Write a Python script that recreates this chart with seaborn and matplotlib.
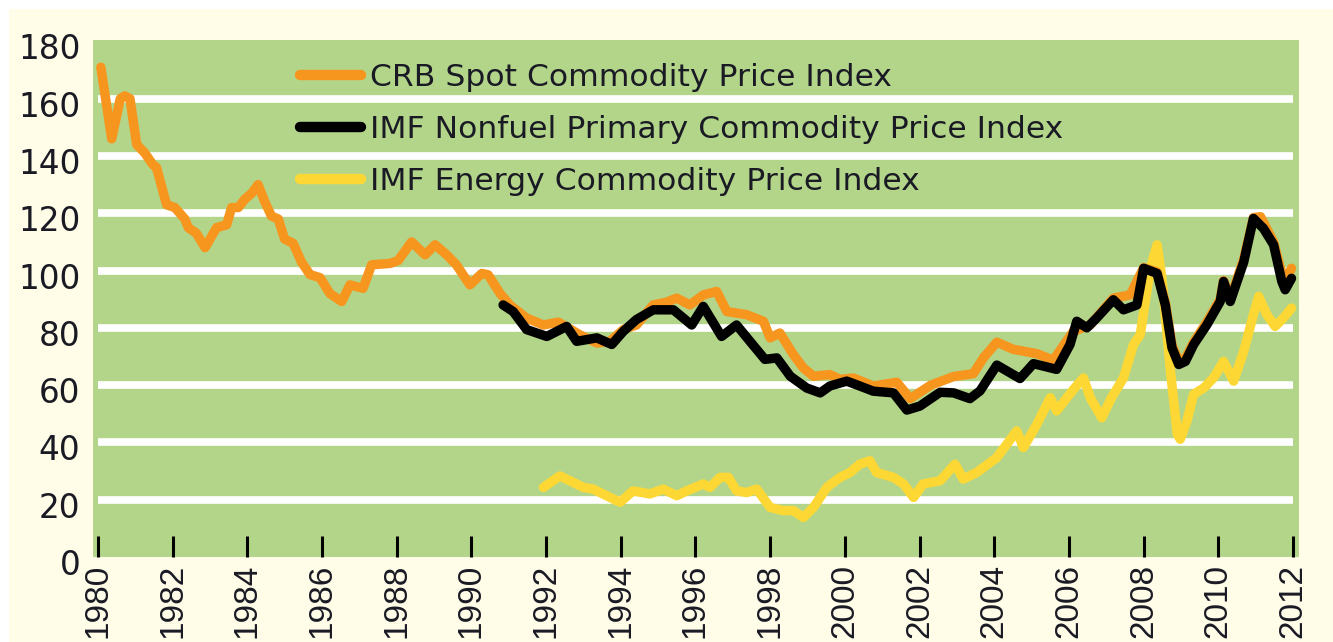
import matplotlib
matplotlib.use("Agg")
import matplotlib.pyplot as plt
import matplotlib.transforms as mtransforms
import seaborn as sns
import pandas as pd
from matplotlib.patches import Rectangle

# ---------------- data ----------------
crb_years = [1980.08, 1980.37, 1980.6, 1980.72, 1980.86, 1981.04, 1981.26, 1981.47, 1981.57, 1981.84,
             1982.06, 1982.33, 1982.42, 1982.64, 1982.87, 1983.18, 1983.45, 1983.58, 1983.76, 1983.94,
             1984.12, 1984.29, 1984.47, 1984.65, 1984.83, 1985.0, 1985.23, 1985.45, 1985.68, 1985.95,
             1986.21, 1986.53, 1986.75, 1987.1, 1987.33, 1987.82, 1988.04, 1988.4, 1988.76, 1989.03,
             1989.34, 1989.6, 1989.96, 1990.28, 1990.45, 1990.77, 1991.03, 1991.48, 1991.93, 1992.33,
             1992.9, 1993.36, 1993.71, 1994.07, 1994.42, 1994.87, 1995.23, 1995.5, 1995.85, 1996.21,
             1996.57, 1996.84, 1997.37, 1997.82, 1998.0, 1998.26, 1998.62, 1998.89, 1999.16, 1999.6,
             1999.87, 2000.23, 2000.76, 2001.39, 2001.75, 2002.3, 2002.91, 2003.44, 2003.71, 2004.07,
             2004.51, 2005.14, 2005.58, 2006.12, 2006.57, 2007.19, 2007.64, 2008.0, 2008.36, 2008.58,
             2008.76, 2008.94, 2009.12, 2009.34, 2009.69, 2010.05, 2010.14, 2010.32, 2010.68, 2010.94,
             2011.13, 2011.48, 2011.7, 2011.79, 2011.96]
crb_values = [171, 146, 160, 161, 160, 144, 141, 137, 136, 123,
              122, 118, 115, 113, 108, 115, 116, 122, 122, 125,
              127, 130, 124, 119, 118, 111, 109.5, 103, 98.6, 97.5,
              92, 89.2, 95, 93.8, 102, 102.5, 103.5, 110, 105.5, 109,
              105.5, 102, 95, 99, 98.5, 92, 88, 83.4, 81, 82,
              77.6, 74.7, 75.3, 79.4, 81, 88, 89, 90.4, 88, 91.5,
              92.7, 85.7, 84.6, 82.3, 76.5, 78.2, 70.7, 66, 63.1, 63.7,
              62, 62.5, 59.7, 61, 55.3, 60, 63, 64, 69.5, 75,
              72.5, 71, 68.7, 78.8, 81, 90.4, 91.5, 101, 99.5, 89,
              74, 68.5, 69.5, 75, 82, 90, 96.5, 90, 104, 118.5,
              118.8, 110, 99, 96.5, 100.8]

nonfuel_years = [1990.85, 1991.12, 1991.48, 1992.02, 1992.55, 1992.82, 1993.36, 1993.76, 1994.07, 1994.42,
                 1994.87, 1995.41, 1995.9, 1996.21, 1996.7, 1997.1, 1997.46, 1997.86, 1998.18, 1998.54,
                 1998.98, 1999.34, 1999.6, 2000.05, 2000.4, 2000.76, 2001.3, 2001.66, 2002.01, 2002.55,
                 2002.91, 2003.35, 2003.62, 2004.07, 2004.69, 2005.05, 2005.67, 2006.03, 2006.21, 2006.48,
                 2006.74, 2007.19, 2007.46, 2007.82, 2008.0, 2008.36, 2008.58, 2008.76, 2008.94, 2009.12,
                 2009.34, 2009.69, 2010.05, 2010.14, 2010.32, 2010.68, 2010.94, 2011.21, 2011.48, 2011.7,
                 2011.79, 2011.96]
nonfuel_values = [88, 85.7, 79.4, 77, 80.5, 75.3, 76.5, 74.2, 78.8, 82.9,
                  86.3, 86.3, 81, 87.5, 77, 81, 75.3, 69, 69.5, 63.1,
                  59, 57.3, 59.7, 61.4, 59.7, 57.9, 57.3, 51.3, 52.7, 57.5,
                  57.3, 55.3, 58, 67, 62.3, 67.5, 65.5, 74.2, 82.3, 80,
                  83.4, 89.8, 86.3, 88, 100.8, 99, 88, 73, 67.2, 68.3,
                  74.2, 81, 89.2, 96.2, 89.2, 103, 118.2, 114.7, 109, 96.2,
                  93.3, 97.3]

energy_years = [1991.93, 1992.37, 1992.64, 1993.0, 1993.26, 1993.62, 1993.98, 1994.33, 1994.78, 1995.14,
                1995.5, 1995.77, 1996.21, 1996.39, 1996.66, 1996.88, 1997.1, 1997.37, 1997.64, 1998.0,
                1998.35, 1998.62, 1998.89, 1999.16, 1999.52, 1999.87, 2000.14, 2000.4, 2000.67, 2000.85,
                2001.3, 2001.57, 2001.84, 2002.1, 2002.55, 2002.95, 2003.17, 2003.53, 2004.07, 2004.6,
                2004.78, 2005.14, 2005.5, 2005.67, 2006.12, 2006.39, 2006.57, 2006.88, 2007.14, 2007.46,
                2007.73, 2007.91, 2008.18, 2008.36, 2008.49, 2008.71, 2008.9, 2008.98, 2009.16, 2009.34,
                2009.61, 2009.87, 2010.14, 2010.41, 2010.68, 2010.94, 2011.08, 2011.3, 2011.52, 2011.74,
                2011.96]
energy_values = [24.3, 28.3, 26.6, 24.3, 23.7, 21.4, 19.1, 23.1, 22, 23.7,
                 21.4, 23.1, 25.5, 24.3, 27.8, 27.8, 23.1, 22.5, 23.7, 17.3,
                 16.2, 16.2, 13.8, 17.3, 24.3, 27.8, 29.5, 32.4, 33.6, 29.5,
                 27.8, 25.5, 20.8, 25.5, 26.6, 32.4, 27.2, 29.5, 34.7, 44,
                 38.2, 46.3, 55.6, 51, 58.5, 62.5, 55.6, 48.6, 55.6, 62.5,
                 74.2, 77.6, 100.8, 109, 97.3, 66, 42.9, 41.1, 47.5, 56.8,
                 59, 62.5, 68.3, 61.4, 71.8, 84.6, 91, 84.6, 80.5, 83.4,
                 86.9]

series_labels = ["CRB Spot Commodity Price Index",
                 "IMF Nonfuel Primary Commodity Price Index",
                 "IMF Energy Commodity Price Index"]
x_ticks = list(range(1980, 2013, 2))
y_ticks = list(range(0, 181, 20))
grid_levels = list(range(20, 161, 20))

# ---------------- style ----------------
GREEN = "#b3d58a"
CREAM = "#fffde8"
ORANGE = "#f7961e"
YELLOW = "#fdd835"
TEXT = "#1a1a24"

sns.set_style("white")
plt.rcParams["font.family"] = ["DejaVu Sans"]

fig = plt.figure(figsize=(13.33, 6.42), dpi=100, facecolor="white")
fig.patches.append(Rectangle((9 / 1333, 0), 1, 1 - 9 / 642, transform=fig.transFigure,
                             facecolor=CREAM, edgecolor="none", zorder=-10))
ax = fig.add_axes([93 / 1333, 1 - 557 / 642, (1299 - 93) / 1333, (557 - 40) / 642])
ax.set_facecolor(GREEN)
for s in ax.spines.values():
    s.set_visible(False)

ax.hlines(grid_levels, 1980, 2012, colors="white", linewidth=5.5, zorder=1)

df_crb = pd.DataFrame({"year": crb_years, "value": crb_values})
df_nf = pd.DataFrame({"year": nonfuel_years, "value": nonfuel_values})
df_en = pd.DataFrame({"year": energy_years, "value": energy_values})

lw = 6.8
common = dict(solid_capstyle="round", solid_joinstyle="round")
sns.lineplot(data=df_crb, x="year", y="value", ax=ax, color=ORANGE, linewidth=lw,
             label=series_labels[0], zorder=3, sort=False, **common)
sns.lineplot(data=df_nf, x="year", y="value", ax=ax, color="black", linewidth=lw,
             label=series_labels[1], zorder=4, sort=False, **common)
sns.lineplot(data=df_en, x="year", y="value", ax=ax, color=YELLOW, linewidth=lw,
             label=series_labels[2], zorder=2, sort=False, **common)

ax.set_xlim(1979.87, 2012.16)
ax.set_ylim(0, 180.5)
ax.set_xlabel("")
ax.set_ylabel("")

ax.set_xticks(x_ticks)
ax.set_xticklabels([str(x) for x in x_ticks], rotation=90, fontsize=24, color=TEXT,
                   family=["Liberation Sans", "DejaVu Sans"])
ax.tick_params(axis="x", direction="in", length=15, width=2.2, color="black", pad=5,
               bottom=True)
ax.set_yticks(y_ticks)
ax.set_yticklabels([str(y) for y in y_ticks], fontsize=23.5, color=TEXT)
ax.tick_params(axis="y", length=0, pad=9, left=True)
shift = mtransforms.ScaledTranslation(0, -5 / 100, fig.dpi_scale_trans)
for lab in ax.get_yticklabels():
    lab.set_transform(lab.get_transform() + shift)

leg = ax.legend(loc="upper left", bbox_to_anchor=((300 - 93) / 1206, 1 - (63 - 40) / 517),
                frameon=False, fontsize=22.6, handlelength=1.95, handletextpad=0.27,
                labelspacing=0.74, borderaxespad=0, borderpad=0)
for t in leg.get_texts():
    t.set_color(TEXT)
for h in leg.get_lines():
    h.set_linewidth(7.5)

fig.savefig("out.png", dpi=100, facecolor=fig.get_facecolor())
